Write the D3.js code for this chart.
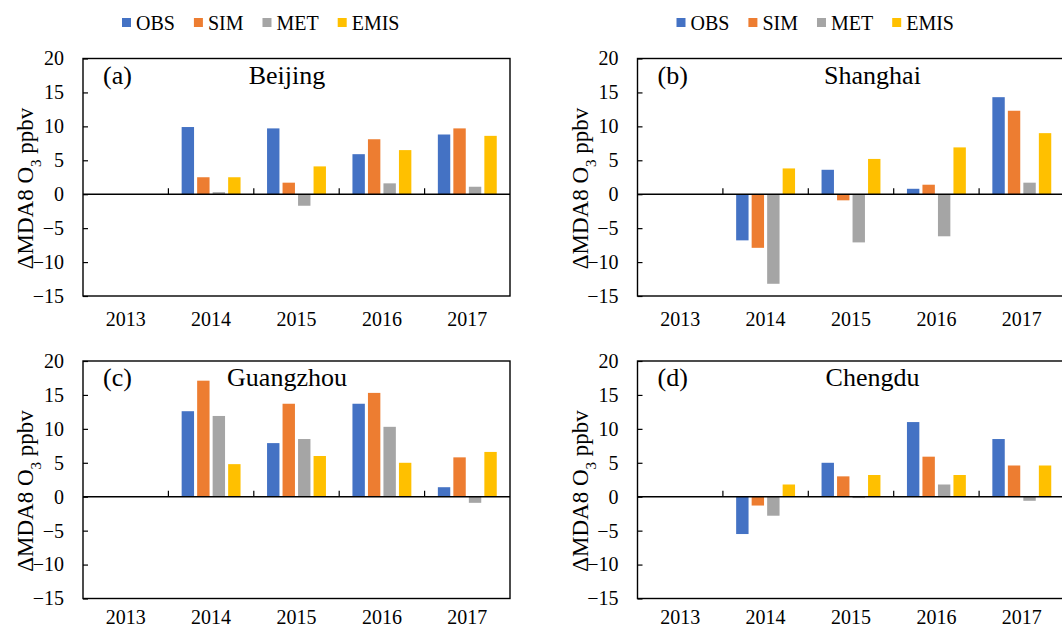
<!DOCTYPE html>
<html>
<head>
<meta charset="utf-8">
<script src="https://cdn.jsdelivr.net/npm/d3@7"></script>
<style>
  html, body { margin: 0; padding: 0; background: #fff; }
  svg { display: block; }
  text { font-family: "Liberation Serif", "Times New Roman", serif; fill: #000; }
</style>
</head>
<body>
<svg id="chart" width="1062" height="627"></svg>
<script>
// ---- data ----
const years = ["2013", "2014", "2015", "2016", "2017"];
const series = ["OBS", "SIM", "MET", "EMIS"];
const colors = ["#4472C4", "#ED7D31", "#A5A5A5", "#FFC000"];
const yTicks = [-15, -10, -5, 0, 5, 10, 15, 20];
const panelLabels = ["(a)", "(b)", "(c)", "(d)"];
const cities = ["Beijing", "Shanghai", "Guangzhou", "Chengdu"];

// values per city: [OBS, SIM, MET, EMIS] per year (2013 has no bars)
const beijing = [
  [null, null, null, null],
  [9.9, 2.5, 0.3, 2.5],
  [9.7, 1.7, -1.7, 4.1],
  [5.9, 8.1, 1.6, 6.5],
  [8.8, 9.7, 1.1, 8.6]
];
const shanghai = [
  [null, null, null, null],
  [-6.8, -7.9, -13.2, 3.8],
  [3.6, -0.9, -7.1, 5.2],
  [0.8, 1.4, -6.2, 6.9],
  [14.3, 12.3, 1.7, 9.0]
];
const guangzhou = [
  [null, null, null, null],
  [12.6, 17.1, 11.9, 4.8],
  [7.9, 13.7, 8.5, 6.0],
  [13.7, 15.3, 10.3, 5.0],
  [1.4, 5.8, -0.9, 6.6]
];
const chengdu = [
  [null, null, null, null],
  [-5.5, -1.3, -2.8, 1.8],
  [5.0, 3.0, -0.2, 3.2],
  [11.0, 5.9, 1.8, 3.2],
  [8.5, 4.6, -0.6, 4.6]
];
const cityData = [beijing, shanghai, guangzhou, chengdu];

// ---- layout ----
const svg = d3.select("#chart");
const plotW = 427, plotH = 237.5;
const lefts = [83, 637.5];
const tops = [58.5, 361];
const FONT = '"Liberation Serif", "Times New Roman", serif';

cityData.forEach((data, p) => {
  const col = p % 2, row = Math.floor(p / 2);
  const L = lefts[col], T = tops[row];
  const g = svg.append("g");

  const y = d3.scaleLinear().domain([-15, 20]).range([T + plotH, T]);
  const x0 = d3.scaleBand().domain(years).range([L, L + plotW]).padding(0);
  const x1 = d3.scaleBand().domain(series).range([0, 62]).paddingInner(0.2).paddingOuter(0.1);
  const color = d3.scaleOrdinal().domain(series).range(colors);

  // bars
  years.forEach((yr, yi) => {
    const gx = x0(yr) + x0.bandwidth() / 2 - 31;
    series.forEach((s, si) => {
      const v = data[yi][si];
      if (v === null) return;
      g.append("rect")
        .attr("x", gx + x1(s))
        .attr("width", x1.bandwidth())
        .attr("y", y(Math.max(0, v)))
        .attr("height", Math.abs(y(v) - y(0)))
        .attr("fill", color(s));
    });
  });

  // frame
  g.append("rect")
    .attr("x", L).attr("y", T).attr("width", plotW).attr("height", plotH)
    .attr("fill", "none").attr("stroke", "#000").attr("stroke-width", 1.4);

  // y axis ticks (inside) + labels
  const yAxis = d3.axisLeft(y).tickValues(yTicks).tickSize(-5).tickPadding(24);
  const ya = g.append("g").attr("transform", `translate(${L},0)`).call(yAxis)
    .attr("font-family", FONT);
  ya.select(".domain").remove();
  ya.selectAll(".tick line").attr("stroke", "#000").attr("stroke-width", 1.2);
  ya.selectAll(".tick text")
    .attr("x", -19)
    .style("font-size", "20px")
    .style("font-family", FONT)
    .attr("fill", "#000");

  // zero line with category-boundary ticks pointing up
  g.append("line")
    .attr("x1", L).attr("x2", L + plotW)
    .attr("y1", y(0)).attr("y2", y(0))
    .attr("stroke", "#000").attr("stroke-width", 1.5);
  years.slice(1).forEach(yr => {
    g.append("line")
      .attr("x1", x0(yr)).attr("x2", x0(yr))
      .attr("y1", y(0)).attr("y2", y(0) - 6)
      .attr("stroke", "#000").attr("stroke-width", 1.2);
  });

  // year labels
  const xAxis = d3.axisBottom(x0).tickSize(0).tickPadding(0);
  const xa = g.append("g").attr("transform", `translate(0,${T + plotH})`).call(xAxis)
    .attr("font-family", FONT);
  xa.select(".domain").remove();
  xa.selectAll(".tick text")
    .attr("y", row === 0 ? 30 : 25).attr("dy", null)
    .style("font-size", "20px")
    .style("font-family", FONT)
    .attr("fill", "#000");

  // panel label & city title
  g.append("text")
    .attr("x", L + 20).attr("y", T + 25)
    .style("font-size", "26px")
    .text(panelLabels[p]);
  g.append("text")
    .attr("x", L + (col === 0 ? 204 : 235)).attr("y", T + 25)
    .attr("text-anchor", "middle")
    .style("font-size", "26px")
    .text(cities[p]);

  // y-axis title
  const yt = g.append("text")
    .attr("transform", `translate(${L - 50},${T + 130}) rotate(-90)`)
    .attr("text-anchor", "middle")
    .style("font-size", "23px");
  yt.append("tspan").text("\u0394MDA8 O");
  yt.append("tspan").attr("baseline-shift", "sub").style("font-size", "15px").text("3");
  yt.append("tspan").text(" ppbv");

  // legend (top row only)
  if (row === 0) {
    const lg = g.append("g");
    let cx = L + 39;
    series.forEach((s, si) => {
      lg.append("rect")
        .attr("x", cx).attr("y", 18).attr("width", 9).attr("height", 9)
        .attr("fill", color(s));
      const t = lg.append("text")
        .attr("x", cx + 14).attr("y", 29.5)
        .style("font-size", "20px")
        .text(s);
      cx += 14 + t.node().getComputedTextLength() + 19;
    });
  }
});
</script>
</body>
</html>
